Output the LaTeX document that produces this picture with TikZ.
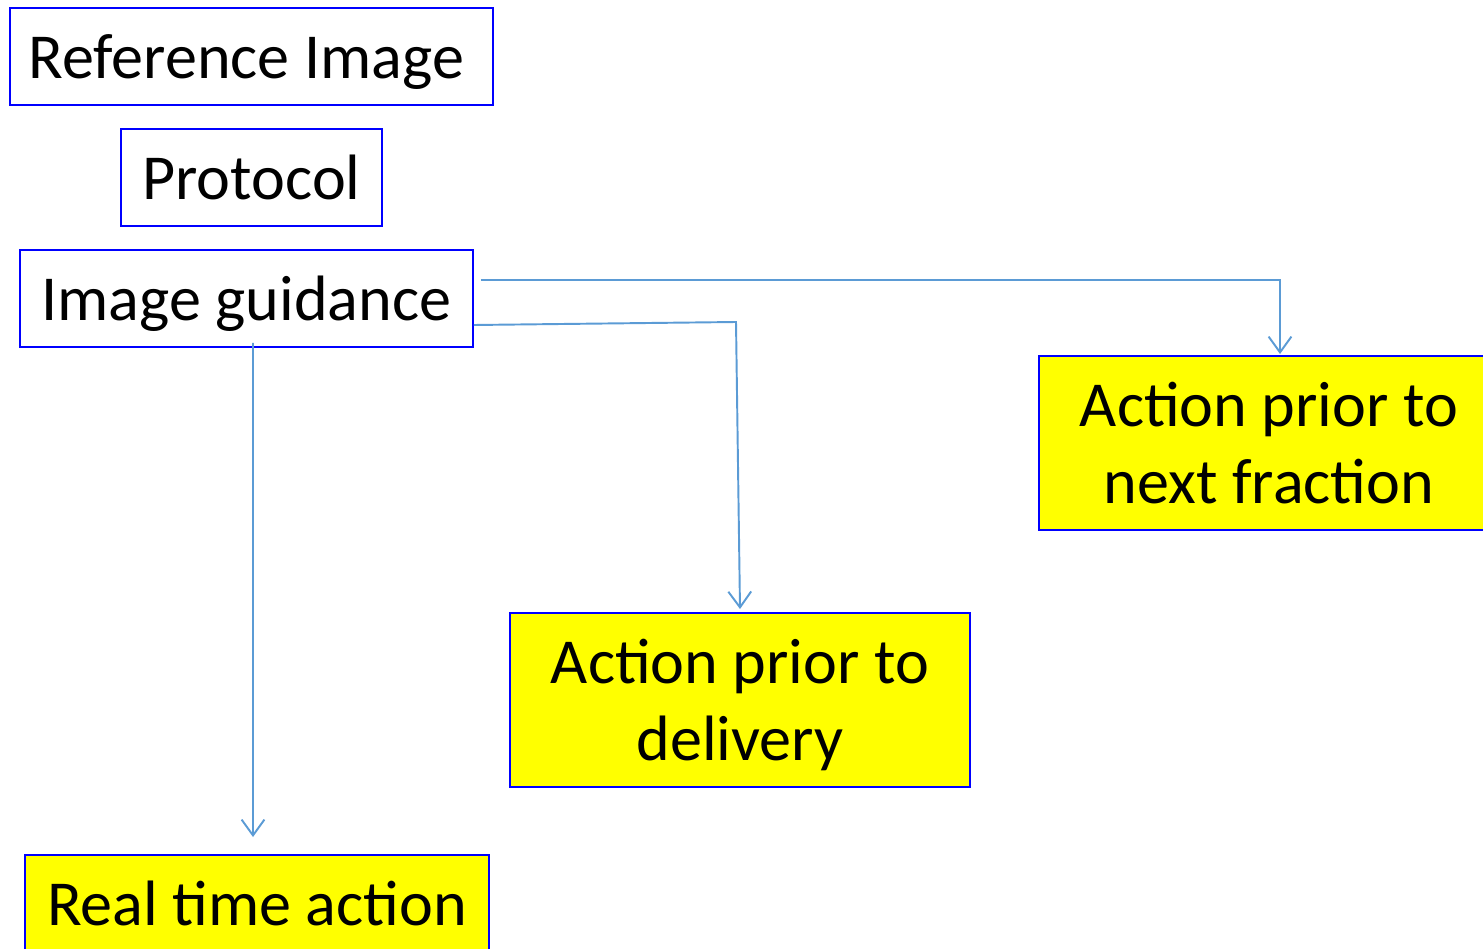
\documentclass[tikz,border=0pt]{standalone}
\usepackage{fontspec}
\setmainfont{Carlito}
\usetikzlibrary{arrows.meta}
\definecolor{boxblue}{RGB}{0,0,255}
\definecolor{flowblue}{RGB}{91,155,213}
\definecolor{actionyellow}{RGB}{255,255,0}
\begin{document}
\begin{tikzpicture}[x=0.02cm,y=-0.02cm,
		box/.style={draw=boxblue,line width=1.1pt,inner sep=0pt,align=center,text depth=0pt,
			font=\fontsize{36.5}{43.5}\selectfont},
		action/.style={box,fill=actionyellow},
		flow/.style={draw=flowblue,line width=1.1pt,-{Straight Barb[length=9pt,width=13pt,line width=1.1pt]}}]
		\useasboundingbox (0,0) rectangle (1483,949);
		%put the boxes on the left
		\node[box,minimum width=483*0.02cm,minimum height=97*0.02cm] (ref) at (251.5,56.5) {Reference Image\,};
		\node[box,minimum width=261*0.02cm,minimum height=97*0.02cm] (proto) at (251.5,177.5) {Protocol};
		\node[box,minimum width=453*0.02cm,minimum height=97*0.02cm] (guide) at (246.5,298.5) {Image guidance};
		%put the actions
		\node[action,minimum width=460*0.02cm,minimum height=174*0.02cm] (frac) at (1269,443) {Action prior to\\next fraction};
		\node[action,minimum width=460*0.02cm,minimum height=174*0.02cm] (deliv) at (740,700) {Action prior to\\delivery};
		\node[action,minimum width=464*0.02cm,minimum height=97*0.02cm] (real) at (257,903.5) {Real time action};
		%connect them
		\coordinate (bend) at (736,322);
		\draw[flow] ([xshift=7*0.02cm,yshift=18.5*0.02cm]guide.east) -| ([xshift=11*0.02cm,yshift=1*0.02cm]frac.north);
		\draw[flow] ([yshift=-26.5*0.02cm]guide.east) -- (bend) -- ([yshift=3*0.02cm]deliv.north);
		\draw[flow] ([xshift=6.5*0.02cm,yshift=5*0.02cm]guide.south) -- ([xshift=-4*0.02cm,yshift=17*0.02cm]real.north);
\end{tikzpicture}
\end{document}
